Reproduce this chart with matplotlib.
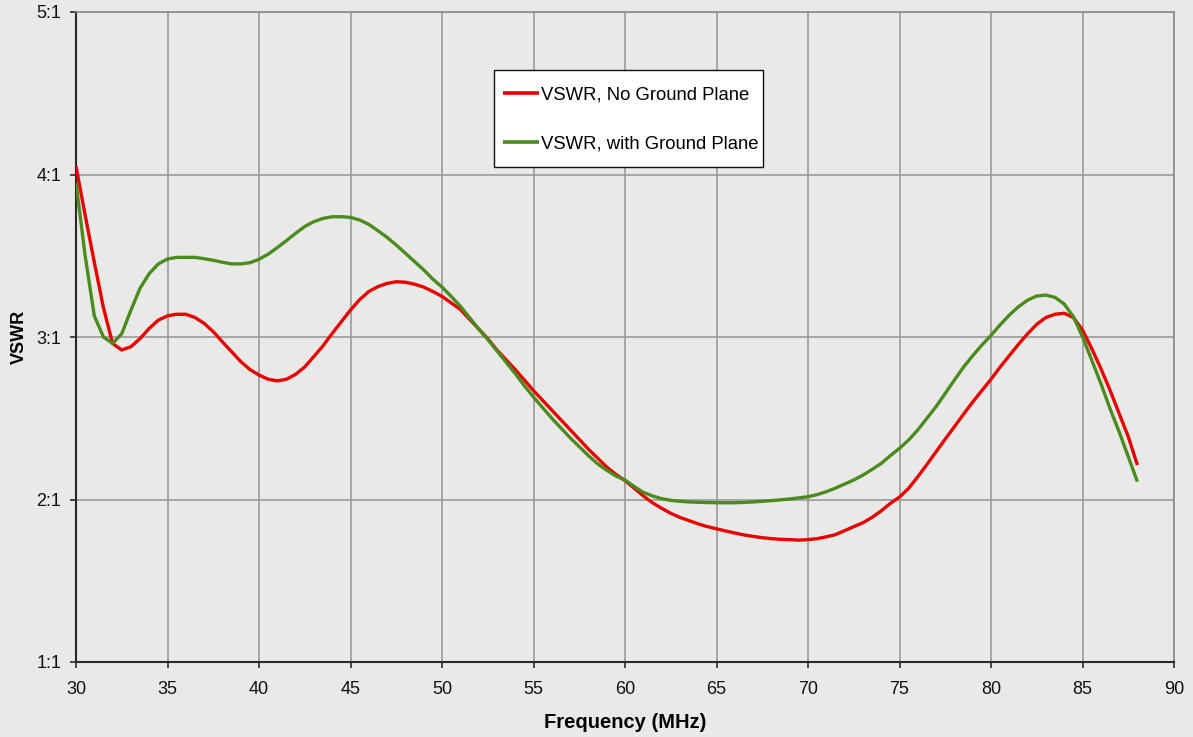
import matplotlib
matplotlib.use("Agg")
import numpy as np
import matplotlib.pyplot as plt
from matplotlib.patches import Rectangle
from matplotlib.ticker import FixedLocator, FuncFormatter

# Frequency (MHz), readings every 0.5 MHz from 30 to 88
freq = np.arange(30, 88.25, 0.5)

# VSWR, No Ground Plane
vswr_no_gp = [4.05, 3.75, 3.46, 3.18, 2.96, 2.92, 2.94, 2.99, 3.053, 3.104,
              3.13, 3.14, 3.14, 3.12, 3.084, 3.033, 2.97, 2.91, 2.849, 2.80,
              2.766, 2.74, 2.73, 2.74, 2.77, 2.816, 2.88, 2.946, 3.022, 3.094,
              3.166, 3.23, 3.28, 3.31, 3.33, 3.34, 3.337, 3.325, 3.307, 3.28,
              3.25, 3.21, 3.17, 3.11, 3.05, 2.99, 2.92, 2.86, 2.80, 2.735,
              2.67, 2.61, 2.55, 2.49, 2.43, 2.37, 2.31, 2.255, 2.20, 2.155,
              2.116, 2.07, 2.022, 1.98, 1.946, 1.915, 1.89, 1.87, 1.85, 1.833,
              1.82, 1.806, 1.794, 1.782, 1.773, 1.765, 1.759, 1.755, 1.753, 1.75,
              1.753, 1.759, 1.77, 1.784, 1.808, 1.833, 1.857, 1.89, 1.93, 1.976,
              2.015, 2.069, 2.14, 2.216, 2.294, 2.372, 2.448, 2.525, 2.60, 2.67,
              2.74, 2.815, 2.885, 2.955, 3.02, 3.078, 3.12, 3.14, 3.146, 3.12,
              3.043, 2.93, 2.807, 2.674, 2.53, 2.387, 2.212]

# VSWR, with Ground Plane
vswr_gp = [3.95, 3.50, 3.13, 3.00, 2.96, 3.02, 3.165, 3.30, 3.39, 3.45,
           3.48, 3.49, 3.49, 3.49, 3.482, 3.472, 3.46, 3.45, 3.45, 3.457,
           3.478, 3.51, 3.55, 3.593, 3.638, 3.68, 3.71, 3.73, 3.74, 3.74,
           3.736, 3.72, 3.693, 3.654, 3.613, 3.566, 3.515, 3.464, 3.413, 3.356,
           3.307, 3.25, 3.19, 3.12, 3.05, 2.985, 2.915, 2.845, 2.775, 2.70,
           2.63, 2.565, 2.50, 2.44, 2.38, 2.325, 2.27, 2.22, 2.18, 2.145,
           2.12, 2.08, 2.044, 2.022, 2.005, 1.995, 1.989, 1.985, 1.983, 1.981,
           1.98, 1.98, 1.98, 1.982, 1.985, 1.989, 1.993, 1.998, 2.003, 2.01,
           2.017, 2.03, 2.048, 2.07, 2.095, 2.12, 2.15, 2.185, 2.222, 2.27,
           2.315, 2.366, 2.428, 2.50, 2.572, 2.653, 2.735, 2.815, 2.885, 2.95,
           3.01, 3.075, 3.135, 3.186, 3.227, 3.252, 3.258, 3.244, 3.203, 3.125,
           3.002, 2.859, 2.715, 2.56, 2.417, 2.264, 2.11]

x_ticks = [30, 35, 40, 45, 50, 55, 60, 65, 70, 75, 80, 85, 90]
y_ticks = [1, 2, 3, 4, 5]
y_tick_labels = ["1:1", "2:1", "3:1", "4:1", "5:1"]

series_labels = ["VSWR, No Ground Plane", "VSWR, with Ground Plane"]
colors = ["#e60000", "#4a8a1e"]

plt.rcParams['font.family'] = ['Liberation Sans', 'DejaVu Sans']

bg = "#e9eae8"
fig = plt.figure(figsize=(11.93, 7.37), dpi=100, facecolor=bg)
ax = fig.add_axes([76 / 1193, 1 - 662 / 737, (1174 - 76) / 1193, (662 - 12) / 737])
ax.set_facecolor(bg)

ax.plot(freq, vswr_no_gp, color=colors[0], lw=2.4, label=series_labels[0],
        solid_joinstyle='round', solid_capstyle='butt', zorder=3)
ax.plot(freq, vswr_gp, color=colors[1], lw=2.4, label=series_labels[1],
        solid_joinstyle='round', solid_capstyle='butt', zorder=3)

ax.set_xlim(30, 90)
ax.set_ylim(1, 5)
ax.xaxis.set_major_locator(FixedLocator(x_ticks))
ax.yaxis.set_major_locator(FixedLocator(y_ticks))
ax.yaxis.set_major_formatter(FuncFormatter(lambda v, p: y_tick_labels[y_ticks.index(int(round(v)))]))

ax.grid(True, color="#9a9a9a", lw=1.2, zorder=1)
ax.set_axisbelow(True)

for s in ["top", "right"]:
    ax.spines[s].set_color("#8a8a8a")
    ax.spines[s].set_linewidth(1.2)
for s in ["left", "bottom"]:
    ax.spines[s].set_color("#2a2a2a")
    ax.spines[s].set_linewidth(1.5)

ax.tick_params(axis='both', direction='out', length=4.5, width=1.2, color="#2a2a2a",
               labelsize=13, labelcolor="#111111")
ax.tick_params(axis='x', pad=9)
ax.tick_params(axis='y', pad=6)

ax.set_xlabel("Frequency (MHz)", fontsize=14.5, fontweight='bold', labelpad=11)
ax.set_ylabel("VSWR", fontsize=13, fontweight='bold', labelpad=6)

# legend content (frame drawn separately so the padding can differ per side)
leg = ax.legend(loc='upper left', bbox_to_anchor=(0.3886, 0.8854), borderaxespad=0,
                fontsize=13.3, frameon=False, handlelength=1.95,
                handletextpad=0.15, labelspacing=1.72, borderpad=0.0)
leg.set_zorder(6)
for h in leg.get_lines():
    h.set_linewidth(2.6)

fig.canvas.draw()
renderer = fig.canvas.get_renderer()
bb = leg.get_window_extent(renderer)
pad_l, pad_r, pad_top, pad_bot = 8.5, 4.5, 16.5, 14.5
inv = ax.transAxes.inverted()
(x0, y0) = inv.transform((bb.x0 - pad_l, bb.y0 - pad_bot))
(x1, y1) = inv.transform((bb.x1 + pad_r, bb.y1 + pad_top))
frame = Rectangle((x0, y0), x1 - x0, y1 - y0, transform=ax.transAxes,
                  facecolor="white", edgecolor="#111111", lw=1.0,
                  zorder=5, clip_on=False)
ax.add_patch(frame)
ax.set_xlim(30, 90)
ax.set_ylim(1, 5)

fig.savefig("out.png", dpi=100, facecolor=bg)
